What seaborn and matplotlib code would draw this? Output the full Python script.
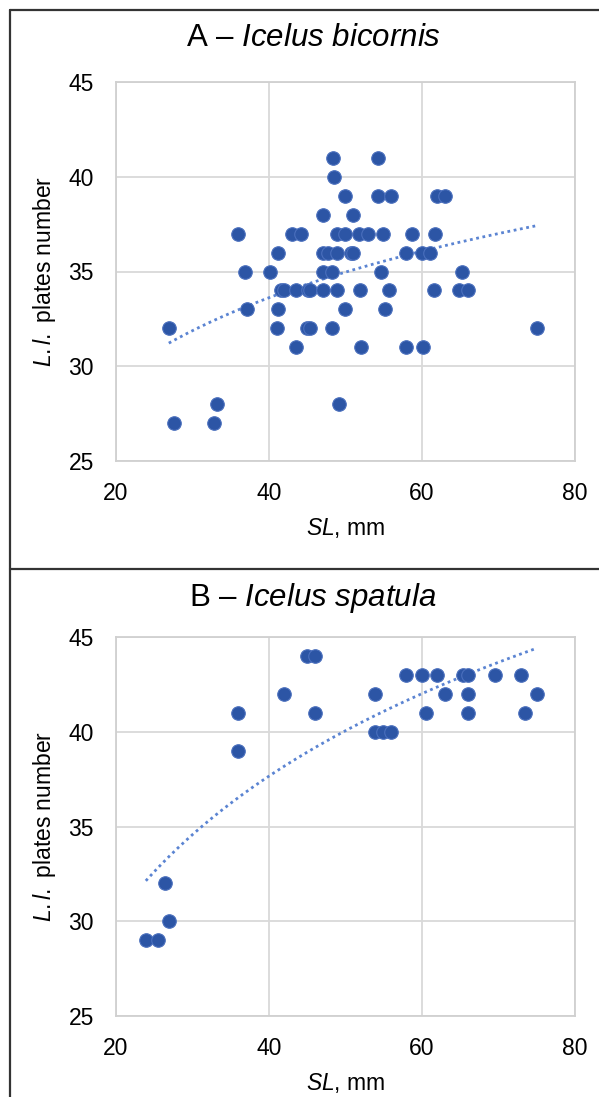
import numpy as np
import pandas as pd
import matplotlib
matplotlib.use("Agg")
import matplotlib.pyplot as plt
from matplotlib.lines import Line2D
import seaborn as sns

# Panel A - Icelus bicornis: SL (mm) and L.l. plates number
sl_a = [48.4, 54.3,
        48.5,
        49.9, 54.3, 55.9, 62.0, 63.0,
        47.0, 51.0,
        36.0, 43.0, 44.2, 48.9, 49.9, 51.8, 53.0, 54.9, 58.7, 61.7,
        41.2, 47.0, 47.7, 48.9, 50.7, 51.0, 57.9, 60.0, 61.0,
        36.9, 40.1, 47.0, 48.2, 54.6, 65.2,
        41.6, 41.9, 43.5, 45.1, 45.4, 47.0, 48.9, 51.9, 55.7, 61.6, 64.8, 66.0,
        37.1, 41.2, 49.9, 55.2,
        26.9, 41.0, 45.0, 45.4, 48.2, 75.0,
        43.5, 52.0, 57.9, 60.1,
        33.2, 49.1,
        27.6, 32.8]
ll_a = [41, 41,
        40,
        39, 39, 39, 39, 39,
        38, 38,
        37, 37, 37, 37, 37, 37, 37, 37, 37, 37,
        36, 36, 36, 36, 36, 36, 36, 36, 36,
        35, 35, 35, 35, 35, 35,
        34, 34, 34, 34, 34, 34, 34, 34, 34, 34, 34, 34,
        33, 33, 33, 33,
        32, 32, 32, 32, 32, 32,
        31, 31, 31, 31,
        28, 28,
        27, 27]

# Panel B - Icelus spatula
sl_b = [45.0, 46.0,
        57.9, 60.0, 62.0, 65.3, 66.0, 69.5, 72.9,
        42.0, 53.9, 63.0, 66.0, 75.0,
        35.9, 46.0, 60.5, 66.0, 73.5,
        53.9, 54.9, 55.9,
        35.9,
        26.4,
        26.9,
        23.9, 25.5]
ll_b = [44, 44,
        43, 43, 43, 43, 43, 43, 43,
        42, 42, 42, 42, 42,
        41, 41, 41, 41, 41,
        40, 40, 40,
        39,
        32,
        30,
        29, 29]

panels = [("A", "Icelus bicornis", sl_a, ll_a),
          ("B", "Icelus spatula", sl_b, ll_b)]

x_ticks = [20, 40, 60, 80]
y_ticks = [25, 30, 35, 40, 45]

sns.set_style("white")
plt.rcParams["font.family"] = ["Liberation Sans", "DejaVu Sans"]
plt.rcParams["mathtext.fontset"] = "custom"
plt.rcParams["mathtext.rm"] = "Liberation Sans"
plt.rcParams["mathtext.it"] = "Liberation Sans:italic"

W, H = 599, 1097
fig = plt.figure(figsize=(W / 100, H / 100), dpi=100)

dot_color = "#2c55a5"
trend_color = "#5b84d2"
text_color = "#000000"

# pixel layout: (axes top, axes bottom, title y)
layout = [(82, 461, 38), (637, 1016, 598)]
ax_left, ax_right = 116, 575

for (letter, species, sl, ll), (top, bottom, ty) in zip(panels, layout):
    ax = fig.add_axes([ax_left / W, 1 - bottom / H, (ax_right - ax_left) / W, (bottom - top) / H])
    df = pd.DataFrame({"SL": sl, "LL": ll})

    # logarithmic trend line, as in the spreadsheet fit
    b, a = np.polyfit(np.log(df["SL"]), df["LL"], 1)
    xs = np.linspace(df["SL"].min(), df["SL"].max(), 200)
    trend = pd.DataFrame({"SL": xs, "LL": a + b * np.log(xs)})

    sns.lineplot(data=trend, x="SL", y="LL", ax=ax, color=trend_color,
                 linestyle=(0, (1, 1.3)), linewidth=2.0, zorder=2)
    sns.scatterplot(data=df, x="SL", y="LL", ax=ax, color=dot_color, s=95,
                    edgecolor="#4a6fbd", linewidth=0.8, zorder=3)

    ax.set_xlim(20, 80)
    ax.set_ylim(25, 45)
    ax.set_xticks(x_ticks)
    ax.set_yticks(y_ticks)
    ax.grid(True, color="#d9d9d9", linewidth=1.3)
    ax.set_axisbelow(True)
    for sp in ax.spines.values():
        sp.set_color("#d0d0d0")
        sp.set_linewidth(1.3)
    ax.tick_params(axis="both", length=0, labelsize=16.5, colors=text_color)
    ax.tick_params(axis="y", pad=16)
    ax.tick_params(axis="x", pad=15)
    ax.set_xlabel(r"$\mathit{SL}$, mm", fontsize=16.5, color=text_color, labelpad=8)
    ax.set_ylabel("")

    mid = (top + bottom) / 2
    fig.text(45 / W, 1 - mid / H, r"$\mathit{L.l.}$ plates number", rotation=90,
             ha="center", va="center", fontsize=16.5, color=text_color)
    fig.text(313 / W, 1 - ty / H, letter + r" – $\mathit{" + species.replace(" ", r"\ ") + "}$",
             ha="center", va="center", fontsize=22.5, color=text_color)

# frame lines around the panels
for line in [((10 / W, 1.0), (1 - 10 / H, 1 - 10 / H)),
             ((10 / W, 10 / W), (0.0, 1 - 10 / H)),
             ((10 / W, 1.0), (1 - 569 / H, 1 - 569 / H))]:
    fig.add_artist(Line2D(line[0], line[1], color="#333333", linewidth=1.6))

fig.savefig("out.png", dpi=100)
